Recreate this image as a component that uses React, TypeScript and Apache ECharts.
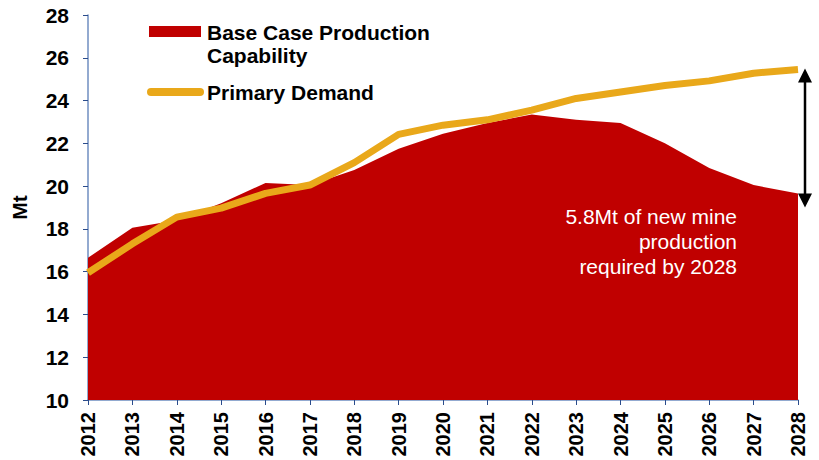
import React, { useEffect, useRef } from "react";
import * as echarts from "echarts";

const years = ["2012","2013","2014","2015","2016","2017","2018","2019","2020","2021","2022","2023","2024","2025","2026","2027","2028"];
const productionCapability = [16.65, 18.05, 18.4, 19.2, 20.15, 20.05, 20.75, 21.75, 22.45, 22.95, 23.35, 23.1, 22.95, 22.0, 20.85, 20.05, 19.65];
const primaryDemand = [15.95, 17.3, 18.55, 18.97, 19.66, 20.05, 21.1, 22.42, 22.85, 23.1, 23.55, 24.1, 24.4, 24.7, 24.92, 25.28, 25.45];
const gapLabel = ["5.8Mt of new mine", "production", "required by 2028"];

const FONT = "Arial, 'Liberation Sans', sans-serif";
const RED = "#C00000";
const ORANGE = "#E9A81A";
const AXIS = "#6F8EC0";

export default function App() {
  const ref = useRef<HTMLDivElement>(null);
  useEffect(() => {
    document.body.style.margin = "0";
    const chart = echarts.init(ref.current!, null, { renderer: "svg" });
    const option: any = {
      animation: false,
      backgroundColor: "#ffffff",
      grid: { left: 88, right: 21, top: 15, bottom: 60, containLabel: false, outerBoundsMode: "none" },
      xAxis: {
        type: "category",
        data: years,
        boundaryGap: false,
        axisLine: { lineStyle: { color: AXIS, width: 1.5 } },
        axisTick: { alignWithLabel: true, length: 5, lineStyle: { color: "#2B4C8C" } },
        axisLabel: { rotate: 90, margin: 12, color: "#000", fontFamily: FONT, fontWeight: "bold", fontSize: 20, interval: 0 },
        splitLine: { show: false },
      },
      yAxis: {
        type: "value",
        min: 10,
        max: 28,
        interval: 2,
        name: "Mt",
        nameLocation: "middle",
        nameGap: 58,
        nameRotate: 90,
        nameTextStyle: { color: "#000", fontFamily: FONT, fontWeight: "bold", fontSize: 21 },
        axisLine: { show: true, lineStyle: { color: AXIS, width: 1.5 } },
        axisTick: { show: true, length: 5, lineStyle: { color: "#2B4C8C" } },
        axisLabel: { margin: 19, color: "#000", fontFamily: FONT, fontWeight: "bold", fontSize: 21 },
        splitLine: { show: false },
      },
      series: [
        {
          name: "Base Case Production Capability",
          type: "line",
          data: productionCapability,
          symbol: "none",
          lineStyle: { width: 0, color: RED },
          itemStyle: { color: RED },
          areaStyle: { color: RED, opacity: 1, origin: "start" },
          z: 2,
        },
        {
          name: "Primary Demand",
          type: "line",
          data: primaryDemand,
          symbol: "none",
          lineStyle: { width: 7, color: ORANGE },
          itemStyle: { color: ORANGE },
          z: 3,
        },
      ],
    };
    chart.setOption(option);

    const last = years.length - 1;
    const top = chart.convertToPixel({ gridIndex: 0 }, [last, primaryDemand[last]]) as number[];
    const bot = chart.convertToPixel({ gridIndex: 0 }, [last, productionCapability[last]]) as number[];
    const ax = top[0] + 7;
    const y1 = top[1] - 1;
    const y2 = bot[1] + 14;
    const head = 14;
    const hw = 7;

    chart.setOption({
      graphic: [
        { type: "rect", shape: { x: 149, y: 26, width: 52, height: 11 }, style: { fill: RED }, z: 10 },
        { type: "text", x: 207, y: 20.5, style: { text: "Base Case Production\nCapability", fill: "#000", font: `bold 21px ${FONT}`, lineHeight: 23 }, z: 10 },
        { type: "line", shape: { x1: 151, y1: 92, x2: 200, y2: 92 }, style: { stroke: ORANGE, lineWidth: 8, lineCap: "round" }, z: 10 },
        { type: "text", x: 207, y: 80.5, style: { text: "Primary Demand", fill: "#000", font: `bold 21px ${FONT}`, lineHeight: 23 }, z: 10 },
        { type: "line", shape: { x1: ax, y1: y1 + head - 2, x2: ax, y2: y2 - head + 2 }, style: { stroke: "#000", lineWidth: 2.5 }, z: 10 },
        { type: "polygon", shape: { points: [[ax, y1], [ax - hw, y1 + head], [ax + hw, y1 + head]] }, style: { fill: "#000" }, z: 10 },
        { type: "polygon", shape: { points: [[ax, y2], [ax - hw, y2 - head], [ax + hw, y2 - head]] }, style: { fill: "#000" }, z: 10 },
        { type: "text", x: 737, y: 204, style: { text: gapLabel.join("\n"), fill: "#ffffff", font: `21px ${FONT}`, lineHeight: 25, align: "right" }, z: 10 },
      ],
    });

    return () => chart.dispose();
  }, []);
  return <div ref={ref} style={{ width: 819, height: 460 }} />;
}
